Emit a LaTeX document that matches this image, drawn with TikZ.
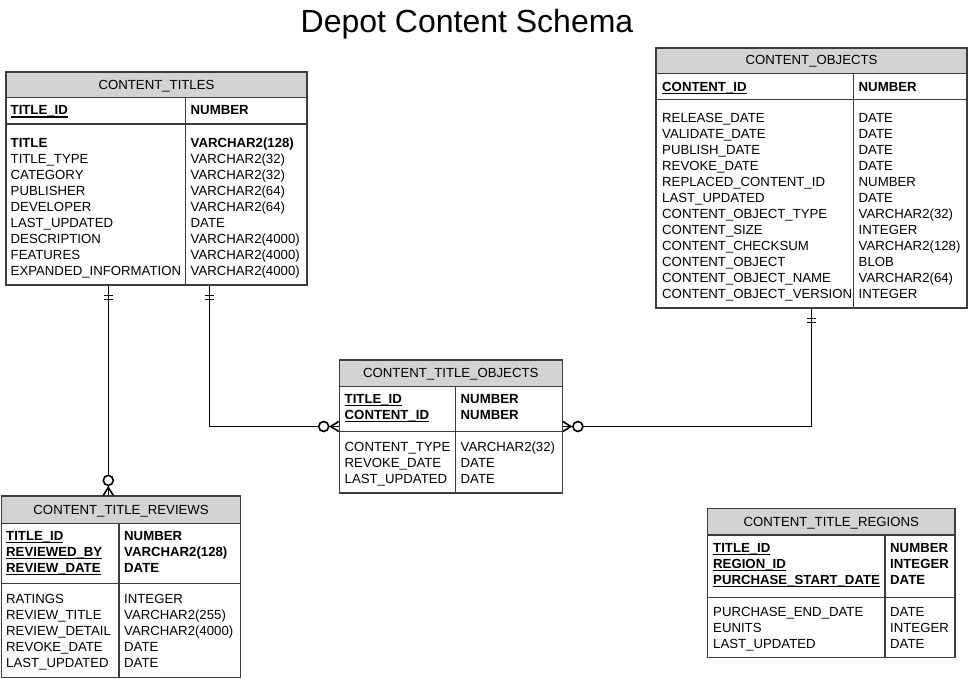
\documentclass[tikz,border=0pt]{standalone}
\usepackage{fontspec}
\setmainfont{Liberation Sans}
\usetikzlibrary{calc}
\definecolor{hdrgray}{RGB}{211,211,211}
\definecolor{edgegray}{RGB}{60,60,60}
\newsavebox\keybox
\newcommand{\pkey}[1]{\sbox\keybox{\textbf{#1}}\usebox\keybox\llap{\rule[-2.6pt]{\wd\keybox}{1.1pt}}}
\begin{document}
\begin{tikzpicture}[
		x=1pt, y=-1pt,
		font=\fontsize{13.2}{16}\selectfont,
		tbl/.style = {
			rectangle,
			draw=edgegray,
			line width=1.2pt,
			inner sep=0pt,
			path picture={\fill[hdrgray] (path picture bounding box.north west)
				rectangle ([yshift=-#1pt]path picture bounding box.north east);}
		},
		grid/.style = {draw=edgegray, line width=1.2pt},
		head/.style = {inner sep=0pt, anchor=base},
		col/.style = {anchor=north west, align=left, inner sep=0pt},
		rel/.style = {line width=1.6pt},
		opt/.style = {rel, fill=white}
	]
	\useasboundingbox (0,0) rectangle (969,679);
	\node[font=\fontsize{32}{36}\selectfont, anchor=base] (title) at (467,33) {Depot Content Schema};

	% CONTENT_TITLES
	\node[tbl=25.3, minimum width=301pt, minimum height=213pt] (titles) at (156.5,178.5) {};
	\node[head] (titles-h) at (156.5,89.2) {CONTENT\_TITLES};
	\draw[grid] (6,97.3) -- (307,97.3) (6,124) -- (307,124) (185.5,97.3) -- (185.5,285);
	\node[col] (titles-k)  at (10.5,105.7) {\pkey{TITLE\_ID}};
	\node[col] (titles-kt) at (190.5,105.7) {\textbf{NUMBER}};
	\node[col] (titles-a)  at (10.5,138) {\textbf{TITLE}\\TITLE\_TYPE\\CATEGORY\\PUBLISHER\\DEVELOPER\\LAST\_UPDATED\\DESCRIPTION\\FEATURES\\EXPANDED\_INFORMATION};
	\node[col] (titles-at) at (190.5,138) {\textbf{VARCHAR2(128)}\\VARCHAR2(32)\\VARCHAR2(32)\\VARCHAR2(64)\\VARCHAR2(64)\\DATE\\VARCHAR2(4000)\\VARCHAR2(4000)\\VARCHAR2(4000)};

	% CONTENT_OBJECTS
	\node[tbl=25.3, minimum width=311pt, minimum height=260pt] (objects) at (811.5,178) {};
	\node[head] (objects-h) at (811.5,65) {CONTENT\_OBJECTS};
	\draw[grid] (656,73.3) -- (967,73.3) (656,99.5) -- (967,99.5) (853.3,73.3) -- (853.3,308);
	\node[col] (objects-k)  at (662,82.2) {\pkey{CONTENT\_ID}};
	\node[col] (objects-kt) at (858.5,82.2) {\textbf{NUMBER}};
	\node[col] (objects-a)  at (662,113.5) {RELEASE\_DATE\\VALIDATE\_DATE\\PUBLISH\_DATE\\REVOKE\_DATE\\REPLACED\_CONTENT\_ID\\LAST\_UPDATED\\CONTENT\_OBJECT\_TYPE\\CONTENT\_SIZE\\CONTENT\_CHECKSUM\\CONTENT\_OBJECT\\CONTENT\_OBJECT\_NAME\\CONTENT\_OBJECT\_VERSION};
	\node[col] (objects-at) at (858.5,113.5) {DATE\\DATE\\DATE\\DATE\\NUMBER\\DATE\\VARCHAR2(32)\\INTEGER\\VARCHAR2(128)\\BLOB\\VARCHAR2(64)\\INTEGER};

	% CONTENT_TITLE_OBJECTS
	\node[tbl=26.5, minimum width=223pt, minimum height=133pt] (cto) at (450.8,426.5) {};
	\node[head] (cto-h) at (450.8,377.8) {CONTENT\_TITLE\_OBJECTS};
	\draw[grid] (339.3,386.5) -- (562.3,386.5) (339.3,431.7) -- (562.3,431.7) (455.3,386.5) -- (455.3,493);
	\node[col] (cto-k)  at (344.5,394.2) {\pkey{TITLE\_ID}\\\pkey{CONTENT\_ID}};
	\node[col] (cto-kt) at (460.5,394.2) {\textbf{NUMBER}\\\textbf{NUMBER}};
	\node[col] (cto-a)  at (344.5,442.2) {CONTENT\_TYPE\\REVOKE\_DATE\\LAST\_UPDATED};
	\node[col] (cto-at) at (460.5,442.2) {VARCHAR2(32)\\DATE\\DATE};

	% CONTENT_TITLE_REVIEWS
	\node[tbl=27.3, minimum width=239.2pt, minimum height=181.5pt] (reviews) at (121.1,586.75) {};
	\node[head] (reviews-h) at (121.1,514.3) {CONTENT\_TITLE\_REVIEWS};
	\draw[grid] (1.5,523.3) -- (240.7,523.3) (1.5,583.3) -- (240.7,583.3) (119,523.3) -- (119,677.5);
	\node[col] (reviews-k)  at (6,531.2) {\pkey{TITLE\_ID}\\\pkey{REVIEWED\_BY}\\\pkey{REVIEW\_DATE}};
	\node[col] (reviews-kt) at (124,531.2) {\textbf{NUMBER}\\\textbf{VARCHAR2(128)}\\\textbf{DATE}};
	\node[col] (reviews-a)  at (6,594.2) {RATINGS\\REVIEW\_TITLE\\REVIEW\_DETAIL\\REVOKE\_DATE\\LAST\_UPDATED};
	\node[col] (reviews-at) at (124,594.2) {INTEGER\\VARCHAR2(255)\\VARCHAR2(4000)\\DATE\\DATE};

	% CONTENT_TITLE_REGIONS
	\node[tbl=26.5, minimum width=247.5pt, minimum height=149pt] (regions) at (831.25,583) {};
	\node[head] (regions-h) at (831.25,526.6) {CONTENT\_TITLE\_REGIONS};
	\draw[grid] (707.5,535) -- (955,535) (707.5,597.3) -- (955,597.3) (885,535) -- (885,657.5);
	\node[col] (regions-k)  at (713,543.2) {\pkey{TITLE\_ID}\\\pkey{REGION\_ID}\\\pkey{PURCHASE\_START\_DATE}};
	\node[col] (regions-kt) at (890,543.2) {\textbf{NUMBER}\\\textbf{INTEGER}\\\textbf{DATE}};
	\node[col] (regions-a)  at (713,607.2) {PURCHASE\_END\_DATE\\EUNITS\\LAST\_UPDATED};
	\node[col] (regions-at) at (890,607.2) {DATE\\INTEGER\\DATE};

	% titles -> reviews
	\draw[rel] ($(titles.south west)!.3405!(titles.south east)$) coordinate (tr) -- (tr |- reviews.north) coordinate (rv);
	\draw[rel] ($(tr)+(-4.5,10)$) -- ++(9,0) ($(tr)+(-4.5,14)$) -- ++(9,0);
	\draw[rel] ($(rv)+(-5,0)$) -- ($(rv)+(0,-8)$) -- ($(rv)+(5,0)$);
	\draw[opt] ($(rv)+(0,-15)$) circle[radius=5pt];

	% titles -> content_title_objects
	\draw[rel] ($(titles.south west)!.675!(titles.south east)$) coordinate (tc) |- (cto.west);
	\draw[rel] ($(tc)+(-4.5,10)$) -- ++(9,0) ($(tc)+(-4.5,14)$) -- ++(9,0);
	\draw[rel] ($(cto.west)+(0,-5)$) -- ($(cto.west)+(-8,0)$) -- ($(cto.west)+(0,5)$);
	\draw[opt] ($(cto.west)+(-15,0)$) circle[radius=5pt];

	% objects -> content_title_objects
	\draw[rel] (objects.south) coordinate (oc) |- (cto.east);
	\draw[rel] ($(oc)+(-4.5,10)$) -- ++(9,0) ($(oc)+(-4.5,14)$) -- ++(9,0);
	\draw[rel] ($(cto.east)+(0,-5)$) -- ($(cto.east)+(8,0)$) -- ($(cto.east)+(0,5)$);
	\draw[opt] ($(cto.east)+(15,0)$) circle[radius=5pt];
\end{tikzpicture}
\end{document}
